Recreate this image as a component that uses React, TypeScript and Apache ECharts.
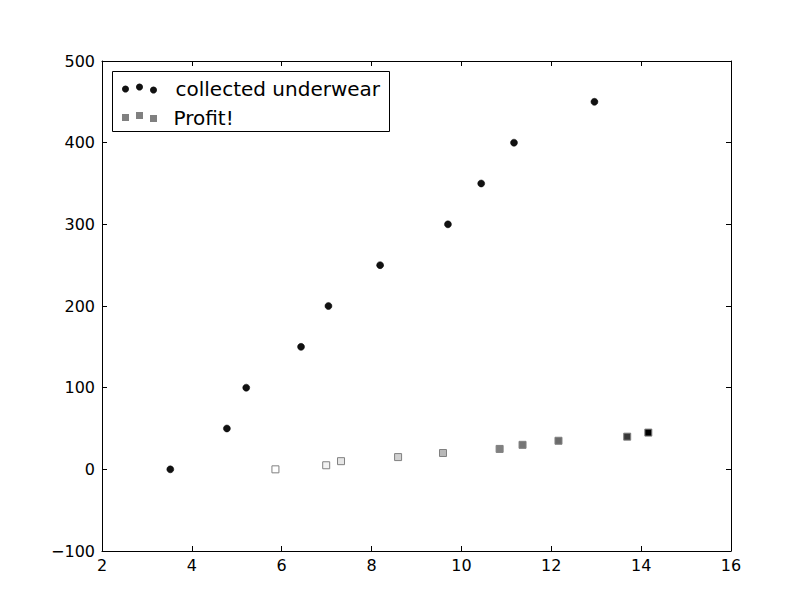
import React, { useEffect, useRef } from "react";
import * as echarts from "echarts";

const underwearX = [3.52, 4.78, 5.21, 6.43, 7.04, 8.19, 9.7, 10.44, 11.17, 12.96];
const underwearY = [0, 50, 100, 150, 200, 250, 300, 350, 400, 450];

const profitX = [5.86, 6.99, 7.32, 8.59, 9.59, 10.85, 11.36, 12.16, 13.69, 14.16];
const profitY = [0, 5, 10, 15, 20, 25, 30, 35, 40, 45];
// fill lightness of each profit marker (1 = white, 0 = black)
const profitShade = [1.0, 0.95, 0.9, 0.82, 0.72, 0.5, 0.46, 0.42, 0.22, 0.0];

const xTicks = { min: 2, max: 16, interval: 2 };
const yTicks = { min: -100, max: 500, interval: 100 };

const FONT = "DejaVu Sans";

function gray(v: number) {
  const c = Math.round(v * 255);
  return `rgb(${c},${c},${c})`;
}

export default function App() {
  const ref = useRef<HTMLDivElement>(null);
  useEffect(() => {
    if (!ref.current) return;
    const chart = echarts.init(ref.current, undefined, { renderer: "svg" });
    const axisCommon = {
      axisLine: { show: true, onZero: false, lineStyle: { color: "#000", width: 1 } },
      axisTick: { show: true, inside: true, length: 5, lineStyle: { color: "#000", width: 1 } },
      splitLine: { show: false },
    };
    const fmt = (v: number) => (v < 0 ? "\u2212" + Math.abs(v) : String(v));
    const option: any = {
      animation: false,
      backgroundColor: "#fff",
      grid: { left: 102, right: 81, top: 61, bottom: 61, containLabel: false },
      xAxis: [
        {
          type: "value",
          position: "bottom",
          ...xTicks,
          ...axisCommon,
          axisLabel: { show: true, fontSize: 16, color: "#000", fontFamily: FONT, margin: 6, formatter: fmt },
        },
        {
          type: "value",
          position: "top",
          ...xTicks,
          ...axisCommon,
          axisLabel: { show: false },
        },
      ],
      yAxis: [
        {
          type: "value",
          position: "left",
          ...yTicks,
          ...axisCommon,
          axisLabel: { show: true, fontSize: 16, color: "#000", fontFamily: FONT, margin: 7, formatter: fmt },
        },
        {
          type: "value",
          position: "right",
          ...yTicks,
          ...axisCommon,
          axisLabel: { show: false },
        },
      ],
      series: [
        {
          name: "collected underwear",
          type: "scatter",
          symbol: "circle",
          symbolSize: 7,
          itemStyle: { color: "#111", borderColor: "#000", borderWidth: 0.5, opacity: 1 },
          data: underwearX.map((x, i) => [x, underwearY[i]]),
        },
        {
          name: "Profit!",
          type: "scatter",
          symbol: "rect",
          symbolSize: 7,
          itemStyle: {
            color: (p: any) => gray(profitShade[p.dataIndex]),
            borderColor: "#808080",
            borderWidth: 1,
            opacity: 1,
          },
          data: profitX.map((x, i) => [x, profitY[i]]),
        },
      ],
      graphic: [
        {
          type: "group",
          left: 112,
          top: 71,
          children: [
            { type: "rect", shape: { x: 0, y: 0, width: 277, height: 60 }, style: { fill: "#fff", stroke: "#000", lineWidth: 1 } },
            { type: "circle", shape: { cx: 13, cy: 17.5, r: 3.5 }, style: { fill: "#111" } },
            { type: "circle", shape: { cx: 27, cy: 15.5, r: 3.5 }, style: { fill: "#111" } },
            { type: "circle", shape: { cx: 41, cy: 18.5, r: 3.5 }, style: { fill: "#111" } },
            { type: "text", x: 63, y: 17, style: { text: "collected underwear", font: `20px '${FONT}'`, fill: "#000", textVerticalAlign: "middle", verticalAlign: "middle" } },
            { type: "rect", shape: { x: 9.5, y: 42.5, width: 7, height: 7 }, style: { fill: "#808080" } },
            { type: "rect", shape: { x: 23.5, y: 40.5, width: 7, height: 7 }, style: { fill: "#808080" } },
            { type: "rect", shape: { x: 37.5, y: 43.5, width: 7, height: 7 }, style: { fill: "#808080" } },
            { type: "text", x: 61, y: 46, style: { text: "Profit!", font: `20px '${FONT}'`, fill: "#000", textVerticalAlign: "middle", verticalAlign: "middle" } },
          ],
        },
      ],
    };
    chart.setOption(option);
    return () => chart.dispose();
  }, []);
  return (
    <div
      ref={ref}
      style={{ position: "absolute", left: 0, top: 0, width: 812, height: 612, background: "#fff" }}
    />
  );
}
